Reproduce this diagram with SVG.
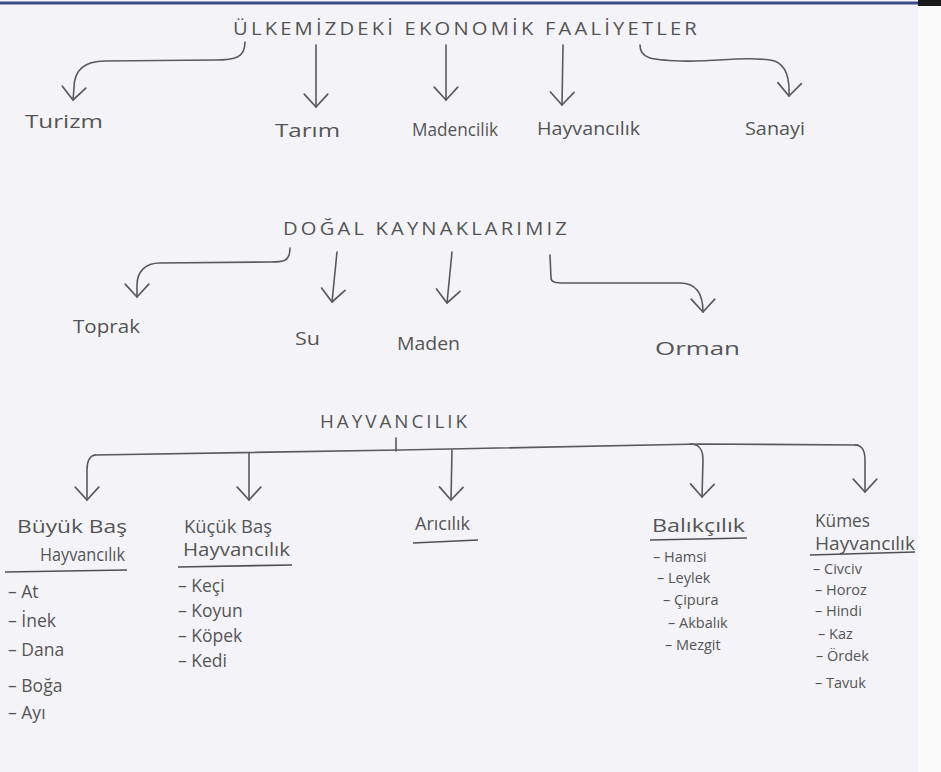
<svg xmlns="http://www.w3.org/2000/svg" width="941" height="772" viewBox="0 0 941 772">
<defs>
<style>
.bg{fill:#f4f4f8}
.t{font-family:"Open Sans","DejaVu Sans",sans-serif;fill:#555555;font-weight:400}
.h{font-size:19px;letter-spacing:3px}
.l{font-size:18px}
.s{font-size:17.5px}
.s2{font-size:14.5px}
.c{fill:none;stroke:#5a5a5a;stroke-width:1.6;stroke-linecap:round;stroke-linejoin:round}
.u{stroke:#505050;stroke-width:1.6}
</style>
<marker id="ah" markerUnits="userSpaceOnUse" markerWidth="30" markerHeight="30" refX="0" refY="0" viewBox="-14 -14 28 28" orient="auto">
<path d="M-12,-11 L0,0 L-12,11" fill="none" stroke="#5a5a5a" stroke-width="1.6" stroke-linecap="round" stroke-linejoin="round"/>
</marker>
</defs>
<rect class="bg" x="0" y="0" width="941" height="772"/>
<rect x="918" y="0" width="23" height="772" fill="#fbfbfb"/>
<line x1="0" y1="3" x2="918" y2="3" stroke="#3c4a86" stroke-width="3"/>
<rect x="918" y="0" width="23" height="6" fill="#1a1a1a"/>

<g id="connectors">
<path class="c" marker-end="url(#ah)" d="M245,42 C245,58 235,60 215,60 L105,61 C85,61 74,70 74,88 L73,100"/>
<path class="c" marker-end="url(#ah)" d="M316,45 L316,107"/>
<path class="c" marker-end="url(#ah)" d="M446,45 L446,100"/>
<path class="c" marker-end="url(#ah)" d="M563,45 L562,105"/>
<path class="c" marker-end="url(#ah)" d="M640,45 C640,58 650,60 680,61 C720,62 740,56 770,60 C785,62 790,75 789,96"/>

<path class="c" marker-end="url(#ah)" d="M290,248 C290,262 283,262 270,262 L160,263 C145,263 137,272 137,285 L137,297"/>
<path class="c" marker-end="url(#ah)" d="M337,252 L332,302"/>
<path class="c" marker-end="url(#ah)" d="M452,252 L447,303"/>
<path class="c" marker-end="url(#ah)" d="M550,255 L551,278 C551,282 555,283 565,283 L680,283 C695,283 703,292 703,312"/>

<path class="c" d="M396,438 L396,451"/>
<path class="c" d="M95,455 L400,450 L700,444 L858,445"/>
<path class="c" marker-end="url(#ah)" d="M95,455 C89,456 87,462 87,470 L87,500"/>
<path class="c" marker-end="url(#ah)" d="M249,453 L249,500"/>
<path class="c" marker-end="url(#ah)" d="M452,450 L451,500"/>
<path class="c" marker-end="url(#ah)" d="M690,444 C700,444 703,450 703,460 L702,497"/>
<path class="c" marker-end="url(#ah)" d="M855,445 C863,445 865,452 865,460 L865,492"/>
</g>

<g id="ekonomik-faaliyetler">
<text class="t h" x="233" y="35" textLength="467" lengthAdjust="spacingAndGlyphs">ÜLKEMİZDEKİ   EKONOMİK   FAALİYETLER</text>
</g>
<g id="turizm"><text class="t l" x="25" y="128" textLength="78" lengthAdjust="spacingAndGlyphs">Turizm</text></g>
<g id="tarim"><text class="t l" x="275" y="137" textLength="65" lengthAdjust="spacingAndGlyphs">Tarım</text></g>
<g id="madencilik"><text class="t l" x="412" y="136" textLength="86" lengthAdjust="spacingAndGlyphs">Madencilik</text></g>
<g id="hayvancilik-1"><text class="t l" x="537" y="135" textLength="103" lengthAdjust="spacingAndGlyphs">Hayvancılık</text></g>
<g id="sanayi"><text class="t l" x="745" y="135" textLength="60" lengthAdjust="spacingAndGlyphs">Sanayi</text></g>

<g id="dogal-kaynaklarimiz">
<text class="t h" x="283" y="235" textLength="287" lengthAdjust="spacingAndGlyphs">DOĞAL   KAYNAKLARIMIZ</text>
</g>
<g id="toprak"><text class="t l" x="73" y="333" textLength="67" lengthAdjust="spacingAndGlyphs">Toprak</text></g>
<g id="su"><text class="t l" x="295" y="345" textLength="25" lengthAdjust="spacingAndGlyphs">Su</text></g>
<g id="maden"><text class="t l" x="397" y="350" textLength="63" lengthAdjust="spacingAndGlyphs">Maden</text></g>
<g id="orman"><text class="t l" x="655" y="355" textLength="85" lengthAdjust="spacingAndGlyphs">Orman</text></g>

<g id="hayvancilik">
<text class="t h" x="320" y="428" textLength="150" lengthAdjust="spacingAndGlyphs">HAYVANCILIK</text>
</g>

<g id="buyukbas">
<text class="t l" x="17" y="533" textLength="110" lengthAdjust="spacingAndGlyphs">Büyük Baş</text>
<text class="t l" x="40" y="561" textLength="85" lengthAdjust="spacingAndGlyphs">Hayvancılık</text>
<line class="u" x1="5" y1="572" x2="127" y2="570"/>
<text class="t s" x="8" y="598">– At</text>
<text class="t s" x="8" y="627">– İnek</text>
<text class="t s" x="8" y="656">– Dana</text>
<text class="t s" x="8" y="692">– Boğa</text>
<text class="t s" x="8" y="719">– Ayı</text>
</g>

<g id="kucukbas">
<text class="t l" x="184" y="533" textLength="88" lengthAdjust="spacingAndGlyphs">Küçük Baş</text>
<text class="t l" x="183" y="556" textLength="107" lengthAdjust="spacingAndGlyphs">Hayvancılık</text>
<line class="u" x1="178" y1="567" x2="292" y2="565"/>
<text class="t s" x="178" y="592">– Keçi</text>
<text class="t s" x="178" y="617">– Koyun</text>
<text class="t s" x="178" y="642">– Köpek</text>
<text class="t s" x="178" y="667">– Kedi</text>
</g>

<g id="aricilik">
<text class="t l" x="415" y="530" textLength="55" lengthAdjust="spacingAndGlyphs">Arıcılık</text>
<line class="u" x1="413" y1="543" x2="478" y2="540"/>
</g>

<g id="balikcilik">
<text class="t l" x="652" y="532" textLength="93" lengthAdjust="spacingAndGlyphs">Balıkçılık</text>
<line class="u" x1="650" y1="540" x2="747" y2="538"/>
<text class="t s2" x="653" y="562">– Hamsi</text>
<text class="t s2" x="657" y="583">– Leylek</text>
<text class="t s2" x="663" y="605">– Çipura</text>
<text class="t s2" x="668" y="628">– Akbalık</text>
<text class="t s2" x="665" y="650">– Mezgit</text>
</g>

<g id="kumes">
<text class="t l" x="815" y="527" textLength="55" lengthAdjust="spacingAndGlyphs">Kümes</text>
<text class="t l" x="815" y="550" textLength="100" lengthAdjust="spacingAndGlyphs">Hayvancılık</text>
<line class="u" x1="810" y1="555" x2="915" y2="552"/>
<text class="t s2" x="813" y="574">– Civciv</text>
<text class="t s2" x="815" y="595">– Horoz</text>
<text class="t s2" x="815" y="616">– Hindi</text>
<text class="t s2" x="818" y="639">– Kaz</text>
<text class="t s2" x="816" y="661">– Ördek</text>
<text class="t s2" x="815" y="688">– Tavuk</text>
</g>
</svg>
